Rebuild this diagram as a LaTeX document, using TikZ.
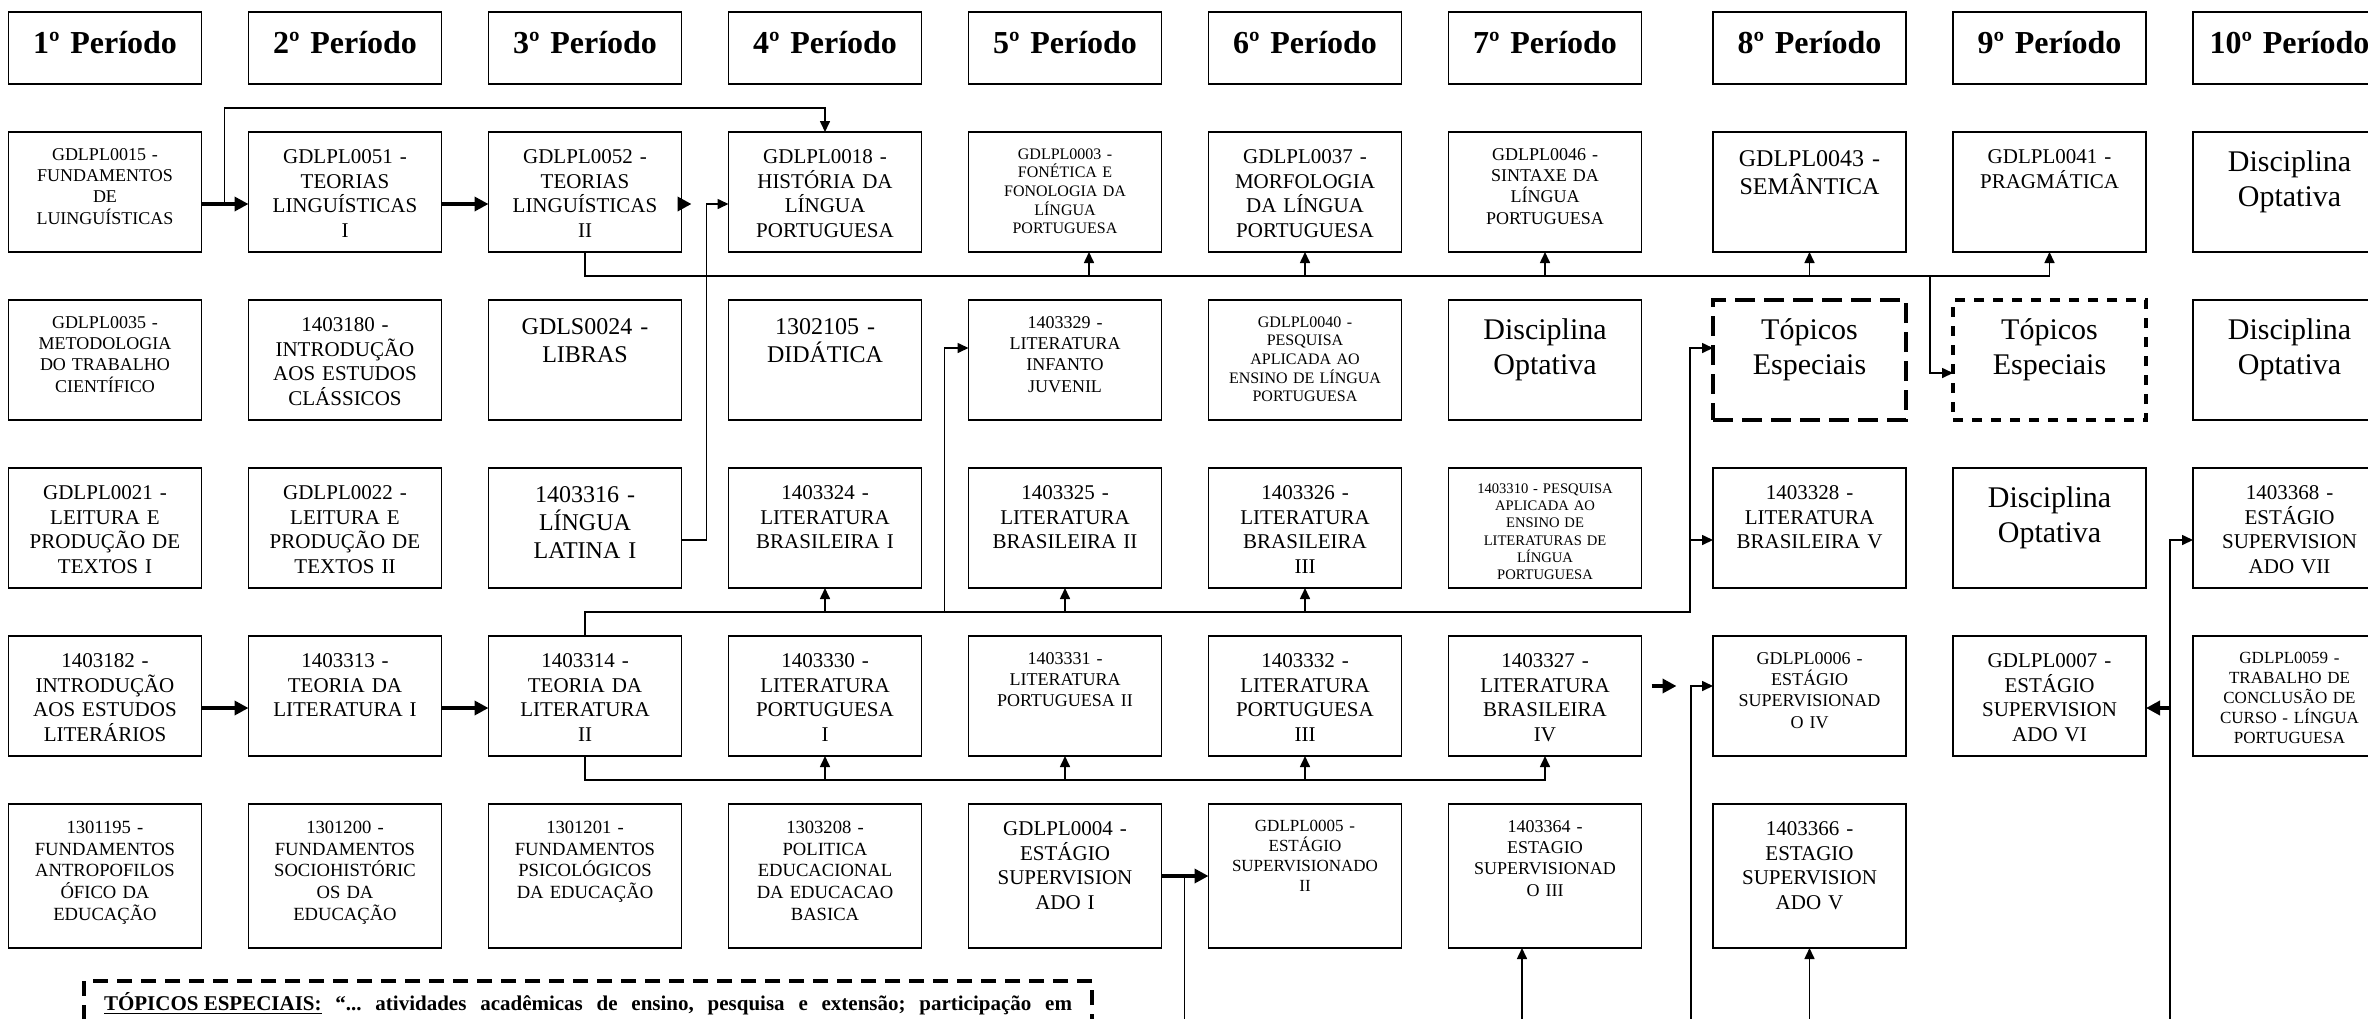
\documentclass[tikz,border=0pt]{standalone}
\usepackage{fontspec}
\setmainfont{Liberation Serif}
\usepackage{tikz}
\usetikzlibrary{arrows.meta, positioning}

\newcommand{\fs}[1]{\fontsize{#1pt}{\dimexpr #1pt*117/100\relax}\selectfont}

\begin{document}
\begin{tikzpicture}[>={Triangle[length=5.5pt, width=5pt]}, node distance=24pt and 23.5pt, line width=0.8pt,
    disc/.style={draw, minimum width=96.5pt, minimum height=60pt, inner sep=0pt, outer sep=0pt},
    head/.style={disc, minimum height=36pt},
    tall/.style={disc, minimum height=72pt},
    topico/.style={disc, line width=2.2pt, dash pattern=on #1 off 4.5pt},
    txt/.style={anchor=north, yshift=-6pt, inner sep=0pt, text width=94pt, align=center, execute at begin node={\rule{0pt}{0.89em}}},
    heavy/.style={line width=2.2pt, -{Triangle[length=7pt, width=7pt]}},
    note/.style={draw, line width=2pt, dash pattern=on 7.5pt off 4.5pt, anchor=north west, inner xsep=10pt, inner ysep=7pt, text height=7.5pt, text depth=2.5pt, font=\fs{10.5}\bfseries\frenchspacing}]

        \useasboundingbox (0,0) rectangle (1184pt,-509pt);
        \coordinate (foot) at (0,-530pt);

        % Periods
        \node[head, label={[txt, font=\fs{16}\bfseries]90:1º Período}] (h1) at (52.5pt,-24pt) {};
        \node[head, right=of h1, label={[txt, font=\fs{16}\bfseries]90:2º Período}] (h2) {};
        \node[head, right=of h2, label={[txt, font=\fs{16}\bfseries]90:3º Período}] (h3) {};
        \node[head, right=of h3, label={[txt, font=\fs{16}\bfseries]90:4º Período}] (h4) {};
        \node[head, right=of h4, label={[txt, font=\fs{16}\bfseries]90:5º Período}] (h5) {};
        \node[head, right=of h5, label={[txt, font=\fs{16}\bfseries]90:6º Período}] (h6) {};
        \node[head, right=of h6, label={[txt, font=\fs{16}\bfseries]90:7º Período}] (h7) {};
        \node[head, right=35.75pt of h7, label={[txt, font=\fs{16}\bfseries]90:8º Período}] (h8) {};
        \node[head, right=of h8, label={[txt, font=\fs{16}\bfseries]90:9º Período}] (h9) {};
        \node[head, right=of h9, label={[txt, font=\fs{16}\bfseries]90:10º Período}] (h10) {};

        % Row 1
        \node[disc, below=of h1, label={[txt, font=\fs{9}]90:GDLPL0015 -\\FUNDAMENTOS\\DE\\LUINGUÍSTICAS}] (fundling) {};
        \node[disc, below=of h2, label={[txt, font=\fs{10.5}]90:GDLPL0051 -\\TEORIAS\\LINGUÍSTICAS\\I}] (teoling1) {};
        \node[disc, below=of h3, label={[txt, font=\fs{10.5}]90:GDLPL0052 -\\TEORIAS\\LINGUÍSTICAS\\II}] (teoling2) {};
        \node[disc, below=of h4, label={[txt, font=\fs{10.5}]90:GDLPL0018 -\\HISTÓRIA DA\\LÍNGUA\\PORTUGUESA}] (histlp) {};
        \node[disc, below=of h5, label={[txt, font=\fs{8}]90:GDLPL0003 -\\FONÉTICA E\\FONOLOGIA DA\\LÍNGUA\\PORTUGUESA}] (fonet) {};
        \node[disc, below=of h6, label={[txt, font=\fs{10.5}]90:GDLPL0037 -\\MORFOLOGIA\\DA LÍNGUA\\PORTUGUESA}] (morf) {};
        \node[disc, below=of h7, label={[txt, font=\fs{9}]90:GDLPL0046 -\\SINTAXE DA\\LÍNGUA\\PORTUGUESA}] (sintaxe) {};
        \node[disc, below=of h8, label={[txt, font=\fs{12}]90:GDLPL0043 -\\SEMÂNTICA}] (semant) {};
        \node[disc, below=of h9, label={[txt, font=\fs{10.5}]90:GDLPL0041 -\\PRAGMÁTICA}] (pragm) {};
        \node[disc, below=of h10, label={[txt, font=\fs{15}]90:Disciplina\\Optativa}] (optA) {};

        % Row 2
        \node[disc, below=of fundling, label={[txt, font=\fs{9}]90:GDLPL0035 -\\METODOLOGIA\\DO TRABALHO\\CIENTÍFICO}] (metod) {};
        \node[disc, below=of teoling1, label={[txt, font=\fs{10.5}]90:1403180 -\\INTRODUÇÃO\\AOS ESTUDOS\\CLÁSSICOS}] (introclass) {};
        \node[disc, below=of teoling2, label={[txt, font=\fs{12}]90:GDLS0024 -\\LIBRAS}] (libras) {};
        \node[disc, below=of histlp, label={[txt, font=\fs{12}]90:1302105 -\\DIDÁTICA}] (didat) {};
        \node[disc, below=of fonet, label={[txt, font=\fs{9}]90:1403329 -\\LITERATURA\\INFANTO\\JUVENIL}] (litinf) {};
        \node[disc, below=of morf, label={[txt, font=\fs{8}]90:GDLPL0040 -\\PESQUISA\\APLICADA AO\\ENSINO DE LÍNGUA\\PORTUGUESA}] (pesqlp) {};
        \node[disc, below=of sintaxe, label={[txt, font=\fs{15}]90:Disciplina\\Optativa}] (optB) {};
        \node[topico=10pt, below=of semant, label={[txt, font=\fs{15}]90:Tópicos\\Especiais}] (topA) {};
        \node[topico=5pt, below=of pragm, label={[txt, font=\fs{15}]90:Tópicos\\Especiais}] (topB) {};
        \node[disc, below=of optA, label={[txt, font=\fs{15}]90:Disciplina\\Optativa}] (optC) {};

        % Row 3
        \node[disc, below=of metod, label={[txt, font=\fs{10.5}]90:GDLPL0021 -\\LEITURA E\\PRODUÇÃO DE\\TEXTOS I}] (leit1) {};
        \node[disc, below=of introclass, label={[txt, font=\fs{10.5}]90:GDLPL0022 -\\LEITURA E\\PRODUÇÃO DE\\TEXTOS II}] (leit2) {};
        \node[disc, below=of libras, label={[txt, font=\fs{12}]90:1403316 -\\LÍNGUA\\LATINA I}] (latina) {};
        \node[disc, below=of didat, label={[txt, font=\fs{10.5}]90:1403324 -\\LITERATURA\\BRASILEIRA I}] (litbr1) {};
        \node[disc, below=of litinf, label={[txt, font=\fs{10.5}]90:1403325 -\\LITERATURA\\BRASILEIRA II}] (litbr2) {};
        \node[disc, below=of pesqlp, label={[txt, font=\fs{10.5}]90:1403326 -\\LITERATURA\\BRASILEIRA\\III}] (litbr3) {};
        \node[disc, below=of optB, label={[txt, font=\fs{7.3}]90:1403310 - PESQUISA\\APLICADA AO\\ENSINO DE\\LITERATURAS DE\\LÍNGUA\\PORTUGUESA}] (pesqlit) {};
        \node[disc, below=of topA, label={[txt, font=\fs{10.5}]90:1403328 -\\LITERATURA\\BRASILEIRA V}] (litbr5) {};
        \node[disc, below=of topB, label={[txt, font=\fs{15}]90:Disciplina\\Optativa}] (optD) {};
        \node[disc, below=of optC, label={[txt, font=\fs{10.5}]90:1403368 -\\ESTÁGIO\\SUPERVISION\\ADO VII}] (est7) {};

        % Row 4
        \node[disc, below=of leit1, label={[txt, font=\fs{10.5}]90:1403182 -\\INTRODUÇÃO\\AOS ESTUDOS\\LITERÁRIOS}] (introlit) {};
        \node[disc, below=of leit2, label={[txt, font=\fs{10.5}]90:1403313 -\\TEORIA DA\\LITERATURA I}] (teolit1) {};
        \node[disc, below=of latina, label={[txt, font=\fs{10.5}]90:1403314 -\\TEORIA DA\\LITERATURA\\II}] (teolit2) {};
        \node[disc, below=of litbr1, label={[txt, font=\fs{10.5}]90:1403330 -\\LITERATURA\\PORTUGUESA\\I}] (litpt1) {};
        \node[disc, below=of litbr2, label={[txt, font=\fs{9}]90:1403331 -\\LITERATURA\\PORTUGUESA II}] (litpt2) {};
        \node[disc, below=of litbr3, label={[txt, font=\fs{10.5}]90:1403332 -\\LITERATURA\\PORTUGUESA\\III}] (litpt3) {};
        \node[disc, below=of pesqlit, label={[txt, font=\fs{10.5}]90:1403327 -\\LITERATURA\\BRASILEIRA\\IV}] (litbr4) {};
        \node[disc, below=of litbr5, label={[txt, font=\fs{9}]90:GDLPL0006 -\\ESTÁGIO\\SUPERVISIONAD\\O IV}] (est4) {};
        \node[disc, below=of optD, label={[txt, font=\fs{10.5}]90:GDLPL0007 -\\ESTÁGIO\\SUPERVISION\\ADO VI}] (est6) {};
        \node[disc, below=of est7, label={[txt, font=\fs{8.5}]90:GDLPL0059 -\\TRABALHO DE\\CONCLUSÃO DE\\CURSO - LÍNGUA\\PORTUGUESA}] (tcc) {};

        % Row 5
        \node[tall, below=of introlit, label={[txt, font=\fs{9.3}]90:1301195 -\\FUNDAMENTOS\\ANTROPOFILOS\\ÓFICO DA\\EDUCAÇÃO}] (fundantr) {};
        \node[tall, below=of teolit1, label={[txt, font=\fs{9.3}]90:1301200 -\\FUNDAMENTOS\\SOCIOHISTÓRIC\\OS DA\\EDUCAÇÃO}] (fundsoc) {};
        \node[tall, below=of teolit2, label={[txt, font=\fs{9.3}]90:1301201 -\\FUNDAMENTOS\\PSICOLÓGICOS\\DA EDUCAÇÃO}] (fundpsi) {};
        \node[tall, below=of litpt1, label={[txt, font=\fs{9.3}]90:1303208 -\\POLITICA\\EDUCACIONAL\\DA EDUCACAO\\BASICA}] (polit) {};
        \node[tall, below=of litpt2, label={[txt, font=\fs{10.5}]90:GDLPL0004 -\\ESTÁGIO\\SUPERVISION\\ADO I}] (est1) {};
        \node[tall, below=of litpt3, label={[txt, font=\fs{8.5}]90:GDLPL0005 -\\ESTÁGIO\\SUPERVISIONADO\\II}] (est2) {};
        \node[tall, below=of litbr4, label={[txt, font=\fs{9}]90:1403364 -\\ESTAGIO\\SUPERVISIONAD\\O III}] (est3) {};
        \node[tall, below=of est4, label={[txt, font=\fs{10.5}]90:1403366 -\\ESTAGIO\\SUPERVISION\\ADO V}] (est5) {};

        % Note
        \node[note] (nota) at (41pt,-489.5pt) {\makebox[484pt][s]{\underline{TÓPICOS ESPECIAIS:} “... atividades acadêmicas de ensino, pesquisa e extensão; participação em}};

        % Linguistics chain
        \draw[heavy] ([yshift=-6pt]fundling.east) -- ([yshift=-6pt]teoling1.west);
        \draw[->] ([yshift=-6pt]fundling.east) ++(11.5pt,0) |- ([yshift=12pt]histlp.north) -- (histlp.north);
        \draw[heavy] ([yshift=-6pt]teoling1.east) -- ([yshift=-6pt]teoling2.west);
        \draw[heavy] ([yshift=-6pt]teoling2.east) -- ++(5pt,0);
        \draw[->] ([yshift=-6pt]latina.east) -- ++(12.5pt,0) |- ([yshift=-6pt]histlp.west);

        \coordinate (lingbus) at ([yshift=-12pt]teoling2.south);
        \draw[->] (teoling2.south) -- (lingbus) -| (pragm.south);
        \draw[->] ([xshift=12pt]fonet.south |- lingbus) -- ([xshift=12pt]fonet.south);
        \draw[->] (morf.south |- lingbus) -- (morf.south);
        \draw[->] (sintaxe.south |- lingbus) -- (sintaxe.south);
        \draw[->] (semant.south |- lingbus) -- (semant.south);
        \draw[->] ([xshift=-11.5pt]topB.west |- lingbus) |- ([yshift=-6.5pt]topB.west);

        % Literature chain
        \draw[heavy] ([yshift=-6pt]introlit.east) -- ([yshift=-6pt]teolit1.west);
        \draw[heavy] ([yshift=-6pt]teolit1.east) -- ([yshift=-6pt]teolit2.west);

        \coordinate (litbus) at ([yshift=12pt]teolit2.north);
        \draw[->] (teolit2.north) -- (litbus) -| ([xshift=-11.5pt,yshift=6pt]topA.west) -- ([yshift=6pt]topA.west);
        \draw[->] (litbr1.south |- litbus) -- (litbr1.south);
        \draw[->] (litbr2.south |- litbus) -- (litbr2.south);
        \draw[->] (litbr3.south |- litbus) -- (litbr3.south);
        \draw[->] ([xshift=-12pt]litinf.west |- litbus) |- ([yshift=6pt]litinf.west);
        \draw[->] ([xshift=-11.5pt,yshift=-6pt]litbr5.west) -- ([yshift=-6pt]litbr5.west);

        \coordinate (ptbus) at ([yshift=-12pt]teolit2.south);
        \draw[->] (teolit2.south) -- (ptbus) -| (litbr4.south);
        \draw[->] (litpt1.south |- ptbus) -- (litpt1.south);
        \draw[->] (litpt2.south |- ptbus) -- (litpt2.south);
        \draw[->] (litpt3.south |- ptbus) -- (litpt3.south);

        % Internships
        \draw[heavy] ([xshift=5pt,yshift=5pt]litbr4.east) -- ++(12.5pt,0);
        \draw[->] ([xshift=-11pt]est4.west |- foot) |- ([yshift=5pt]est4.west);
        \draw[heavy] (est1.east) -- (est2.west);
        \draw ([xshift=-12pt]est2.west |- foot) -- ([xshift=-12pt]est2.west);
        \draw[->] ([xshift=-11.5pt]est3.south |- foot) -- ([xshift=-11.5pt]est3.south);
        \draw[->] (est5.south |- foot) -- (est5.south);
        \draw[->] ([xshift=-11.5pt]est7.west |- foot) |- ([yshift=-6pt]est7.west);
        \draw[heavy] ([xshift=-11.5pt,yshift=-6pt]tcc.west) -- ([yshift=-6pt]est6.east);

    \end{tikzpicture}
\end{document}
